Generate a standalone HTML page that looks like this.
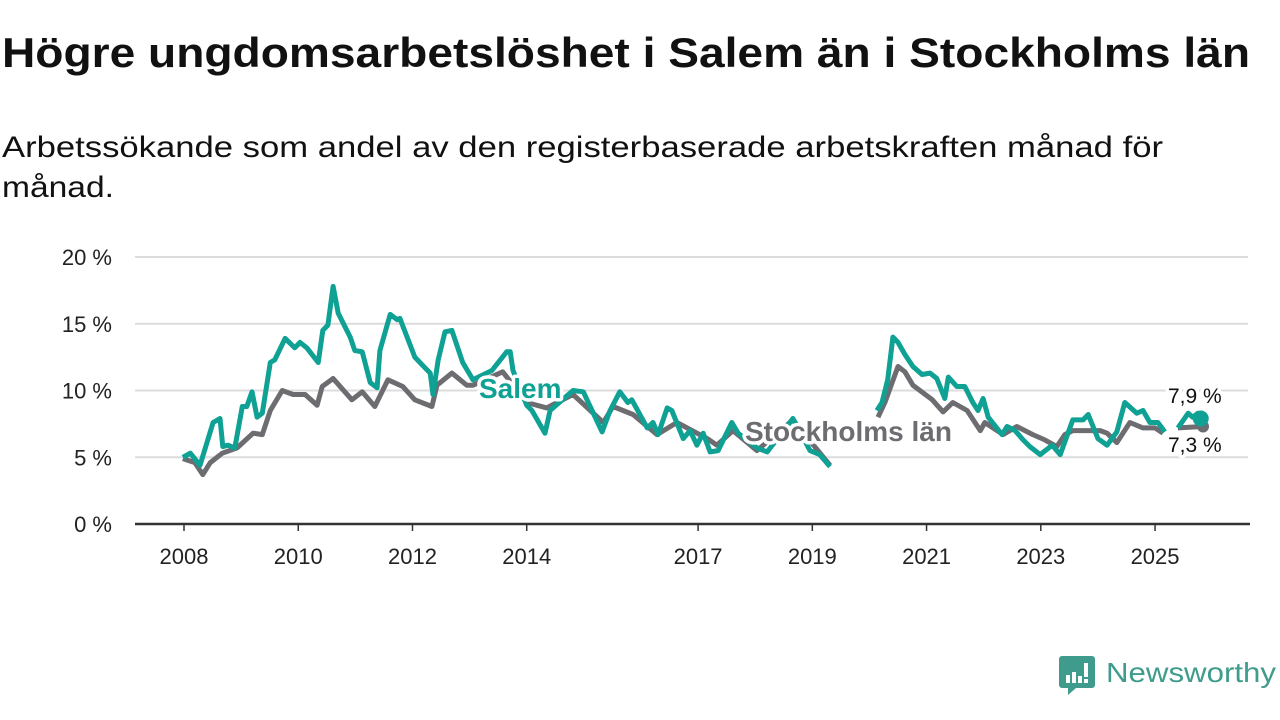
<!DOCTYPE html>
<html><head><meta charset="utf-8"><style>
body{margin:0;background:#fff;width:1280px;height:720px;overflow:hidden}
svg{display:block;font-family:"Liberation Sans","DejaVu Sans",sans-serif}
</style></head><body>
<svg id="chart" width="1280" height="720" viewBox="0 0 1280 720">
<text x="2" y="67" font-size="42" font-weight="bold" fill="#111" textLength="1248" lengthAdjust="spacingAndGlyphs">Högre ungdomsarbetslöshet i Salem än i Stockholms län</text>
<text x="2" y="157" font-size="30" fill="#111" textLength="1161" lengthAdjust="spacingAndGlyphs">Arbetssökande som andel av den registerbaserade arbetskraften månad för</text>
<text x="2" y="197" font-size="30" fill="#111" textLength="112" lengthAdjust="spacingAndGlyphs">månad.</text>
<g id="grid"></g>
<g id="yticks"></g>
<g id="xticks"></g>
<g id="series"></g>
<g id="labels"></g>
<g>
<path d="M1062 656 h30 a3 3 0 0 1 3 3 v26 a3 3 0 0 1 -3 3 h-16 l-8 7 v-7 h-6 a3 3 0 0 1 -3 -3 v-26 a3 3 0 0 1 3 -3z" fill="#3f9c8c"/>
<rect x="1066" y="675" width="4" height="8" fill="#fff"/><rect x="1072" y="672" width="4" height="11" fill="#fff"/><rect x="1078" y="676" width="4" height="7" fill="#fff"/><rect x="1084" y="663" width="4" height="14" fill="#fff"/><rect x="1084" y="679" width="4" height="4" fill="#fff"/>
<text x="1106" y="682" font-size="28" fill="#3f9c8c" textLength="170" lengthAdjust="spacingAndGlyphs">Newsworthy</text>
</g>
</svg>
<script>
const yTicks=[0,5,10,15,20];
const yTickLabels=["0 %","5 %","10 %","15 %","20 %"];
const xTicks=[2008,2010,2012,2014,2017,2019,2021,2023,2025];
const salemYears=[2007.98,2008.11,2008.28,2008.51,2008.63,2008.68,2008.77,2008.89,2009.02,2009.10,2009.19,2009.28,2009.37,2009.51,2009.59,2009.77,2009.94,2010.03,2010.15,2010.35,2010.43,2010.52,2010.61,2010.70,2010.78,2010.91,2010.99,2011.12,2011.26,2011.38,2011.43,2011.61,2011.73,2011.78,2012.04,2012.22,2012.31,2012.36,2012.45,2012.57,2012.69,2012.88,2013.06,2013.39,2013.65,2013.71,2013.76,2014.00,2014.09,2014.32,2014.41,2014.81,2014.99,2015.32,2015.46,2015.63,2015.77,2015.84,2016.11,2016.21,2016.30,2016.46,2016.54,2016.74,2016.86,2016.98,2017.09,2017.21,2017.35,2017.59,2017.70,2018.03,2018.21,2018.66,2018.96,2019.13,2019.31,2019.7,2020.13,2020.22,2020.32,2020.41,2020.50,2020.62,2020.76,2020.92,2021.06,2021.18,2021.32,2021.38,2021.53,2021.67,2021.81,2021.90,2021.99,2022.08,2022.32,2022.41,2022.55,2022.69,2022.81,2022.99,2023.20,2023.34,2023.56,2023.74,2023.83,2024.00,2024.16,2024.33,2024.47,2024.68,2024.79,2024.91,2025.05,2025.17,2025.28,2025.40,2025.58,2025.66,2025.75,2025.80];
const salemValues=[5.0,5.3,4.4,7.6,7.9,5.8,5.9,5.7,8.8,8.8,9.9,8.0,8.3,12.1,12.3,13.9,13.2,13.6,13.2,12.1,14.5,14.9,17.8,15.8,15.1,14.0,13.0,12.9,10.6,10.2,13.0,15.7,15.3,15.4,12.5,11.7,11.3,9.7,12.3,14.4,14.5,12.1,10.8,11.5,12.9,12.9,11.5,8.9,8.5,6.8,8.5,10.0,9.9,6.9,8.5,9.9,9.1,9.3,7.2,7.6,6.7,8.7,8.5,6.4,7.0,5.9,6.8,5.4,5.5,7.6,6.8,5.7,5.4,7.9,5.5,5.2,4.3,null,8.5,9.1,10.8,14.0,13.6,12.7,11.8,11.2,11.3,10.9,9.4,11.0,10.3,10.3,9.1,8.5,9.4,8.0,6.7,7.3,7.0,6.3,5.8,5.2,5.9,5.2,7.8,7.8,8.2,6.4,5.9,6.9,9.1,8.3,8.5,7.6,7.6,6.9,null,7.2,8.3,8.0,8.3,7.9];
const sthlmYears=[2007.98,2008.19,2008.33,2008.46,2008.67,2008.93,2009.21,2009.37,2009.51,2009.72,2009.91,2010.12,2010.33,2010.42,2010.61,2010.94,2011.12,2011.34,2011.57,2011.83,2012.04,2012.34,2012.43,2012.69,2012.95,2013.06,2013.58,2014.00,2014.35,2014.81,2015.34,2015.51,2015.86,2016.28,2016.63,2017.16,2017.33,2017.61,2018.03,2018.66,2019.31,2019.7,2020.15,2020.27,2020.50,2020.62,2020.76,2021.10,2021.29,2021.46,2021.71,2021.94,2022.02,2022.34,2022.58,2022.86,2023.07,2023.28,2023.42,2023.56,2024.04,2024.16,2024.33,2024.56,2024.79,2025.00,2025.14,2025.28,2025.40,2025.84];
const sthlmValues=[4.9,4.6,3.7,4.6,5.3,5.7,6.8,6.7,8.5,10.0,9.7,9.7,8.9,10.3,10.9,9.3,9.9,8.8,10.8,10.3,9.3,8.8,10.4,11.3,10.4,10.4,11.4,9.1,8.7,9.7,7.6,8.8,8.2,6.7,7.6,6.4,5.9,7.0,5.5,7.8,4.4,null,8.0,9.1,11.8,11.4,10.4,9.3,8.4,9.1,8.5,7.0,7.6,6.7,7.3,6.7,6.3,5.8,6.7,7.0,7.0,6.8,6.1,7.6,7.2,7.2,6.8,null,7.2,7.3];
const NS="http://www.w3.org/2000/svg";
const X=y=>184+(y-2008)*57.12;
const Y=v=>524-v*13.35;
function mk(t,a,p){const e=document.createElementNS(NS,t);for(const k in a)e.setAttribute(k,a[k]);p.appendChild(e);return e;}
const grid=document.getElementById('grid'),yt=document.getElementById('yticks'),xt=document.getElementById('xticks');
yTicks.forEach((v,i)=>{
  if(v>0){const l=mk('line',{x1:135,x2:1248,y1:Y(v),y2:Y(v),stroke:'#dcdcdc','stroke-width':2},grid);
  
  }
  const t=mk('text',{x:112,y:Y(v)+8,'text-anchor':'end','font-size':22,fill:'#222'},yt);t.textContent=yTickLabels[i];
  
  
});
const ax=mk('line',{x1:135,x2:1250,y1:524,y2:524,stroke:'#333','stroke-width':2.5},xt);


xTicks.forEach(y=>{
  mk('line',{x1:X(y),x2:X(y),y1:524,y2:531,stroke:'#333','stroke-width':1.5},xt);
  const t=mk('text',{x:X(y),y:564,'text-anchor':'middle','font-size':22,fill:'#222'},xt);t.textContent=y;
  
  
});
function path(ys,vs){let d='',pen=false;ys.forEach((y,i)=>{const v=vs[i];if(v==null){pen=false;return;}d+=(pen?'L':'M')+X(y).toFixed(1)+' '+Y(v).toFixed(1);pen=true;});return d;}
const S=document.getElementById('series');
const p1=mk('path',{d:path(sthlmYears,sthlmValues),fill:'none',stroke:'#6d6c71','stroke-width':5,'stroke-linejoin':'round'},S);


const p2=mk('path',{d:path(salemYears,salemValues),fill:'none',stroke:'#0ea194','stroke-width':5,'stroke-linejoin':'round'},S);


const ls=sthlmValues.length-1,lm=salemValues.length-1;
const d1=mk('circle',{cx:X(sthlmYears[ls]),cy:Y(sthlmValues[ls]),r:6,fill:'#6d6c71'},S);


const d2=mk('circle',{cx:X(salemYears[lm]),cy:Y(salemValues[lm]),r:8,fill:'#0ea194'},S);


const L=document.getElementById('labels');
function lab(txt,x,y,fs,col,bold,name){const t=mk('text',{x:x,y:y,'font-size':fs,fill:col,'font-weight':bold?'bold':'normal',stroke:'#fff','stroke-width':7,'paint-order':'stroke','stroke-linejoin':'round'},L);t.textContent=txt;

}
lab('Salem',479,398,28,'#0ea194',true,'salem-label');
lab('Stockholms län',745,441,28,'#6d6c71',true,'stockholm-label');
lab(salemValues[lm].toFixed(1).replace('.',',')+' %',1168,403,21,'#111',false,'salem-end-value');
lab(sthlmValues[ls].toFixed(1).replace('.',',')+' %',1168,452,21,'#111',false,'stockholm-end-value');
</script>
</body></html>
